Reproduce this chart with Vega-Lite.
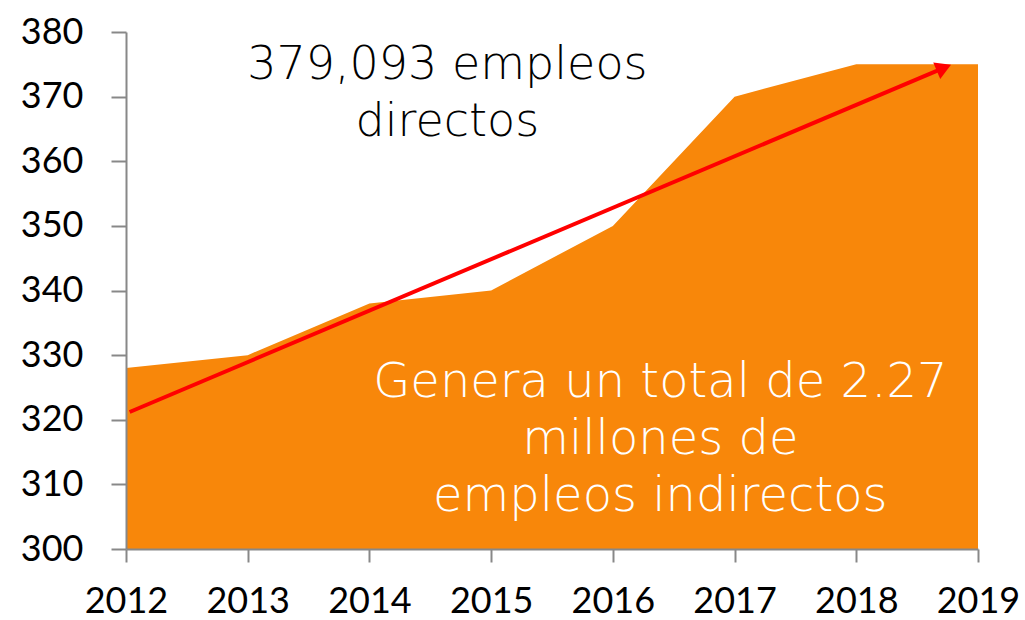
{
  "$schema": "https://vega.github.io/schema/vega-lite/v6.json",
  "autosize": {"type": "none"},
  "padding": {"left": 126, "top": 32, "right": 47, "bottom": 71},
  "width": 852,
  "height": 517,
  "background": "white",
  "config": {"view": {"stroke": null}},
  "datasets": {
    "empleo": [
      {"year": 2012, "value": 328},
      {"year": 2013, "value": 330},
      {"year": 2014, "value": 338},
      {"year": 2015, "value": 340},
      {"year": 2016, "value": 350},
      {"year": 2017, "value": 370},
      {"year": 2018, "value": 375},
      {"year": 2019, "value": 375}
    ],
    "trend": [
      {"year": 2012.03, "value": 321.2},
      {"year": 2018.7, "value": 374.3}
    ],
    "head": [
      {"year": 2018.7, "value": 374.3}
    ],
    "black_text": [
      {"year": 2014.64, "value": 374.9, "label": "379,093 empleos"},
      {"year": 2014.64, "value": 366.1, "label": "directos"}
    ],
    "white_text": [
      {"year": 2016.39, "value": 325.7, "label": "Genera un total de 2.27"},
      {"year": 2016.39, "value": 316.9, "label": "millones de"},
      {"year": 2016.39, "value": 308.0, "label": "empleos indirectos"}
    ]
  },
  "layer": [
    {
      "data": {"name": "empleo"},
      "mark": {"type": "area", "color": "#F8870A", "opacity": 1},
      "encoding": {
        "x": {
          "field": "year", "type": "quantitative",
          "scale": {"domain": [2012, 2019], "nice": false, "zero": false},
          "axis": {
            "title": null, "values": [2012, 2013, 2014, 2015, 2016, 2017, 2018, 2019],
            "format": "d", "grid": false, "zindex": 1,
            "domainColor": "#888888", "domainWidth": 2,
            "tickColor": "#888888", "tickWidth": 2, "tickSize": 13,
            "labelFont": "Lato", "labelFontSize": 36, "labelColor": "#000000",
            "labelPadding": 22, "labelFlush": false, "labelOverlap": false
          }
        },
        "y": {
          "field": "value", "type": "quantitative",
          "scale": {"domain": [300, 380], "nice": false, "zero": false},
          "axis": {
            "title": null, "values": [300, 310, 320, 330, 340, 350, 360, 370, 380],
            "grid": false, "zindex": 1,
            "domainColor": "#888888", "domainWidth": 2,
            "tickColor": "#888888", "tickWidth": 2, "tickSize": 15,
            "labelFont": "Lato", "labelFontSize": 36, "labelColor": "#000000",
            "labelPadding": 28, "labelOverlap": false
          }
        },
        "y2": {"datum": 300}
      }
    },
    {
      "data": {"name": "trend"},
      "mark": {"type": "line", "color": "#FF0000", "strokeWidth": 4},
      "encoding": {
        "x": {"field": "year", "type": "quantitative"},
        "y": {"field": "value", "type": "quantitative"}
      }
    },
    {
      "data": {"name": "head"},
      "mark": {"type": "point", "shape": "triangle", "filled": true, "color": "#FF0000", "opacity": 1, "size": 320, "angle": 67},
      "encoding": {
        "x": {"field": "year", "type": "quantitative"},
        "y": {"field": "value", "type": "quantitative"}
      }
    },
    {
      "data": {"name": "black_text"},
      "mark": {"type": "text", "font": "DejaVu Sans", "fontWeight": 200, "fontSize": 46, "color": "#000000", "align": "center", "baseline": "middle"},
      "encoding": {
        "x": {"field": "year", "type": "quantitative"},
        "y": {"field": "value", "type": "quantitative"},
        "text": {"field": "label"}
      }
    },
    {
      "data": {"name": "white_text"},
      "mark": {"type": "text", "font": "DejaVu Sans", "fontWeight": 200, "fontSize": 48, "color": "#FFFFFF", "align": "center", "baseline": "middle"},
      "encoding": {
        "x": {"field": "year", "type": "quantitative"},
        "y": {"field": "value", "type": "quantitative"},
        "text": {"field": "label"}
      }
    }
  ]
}
